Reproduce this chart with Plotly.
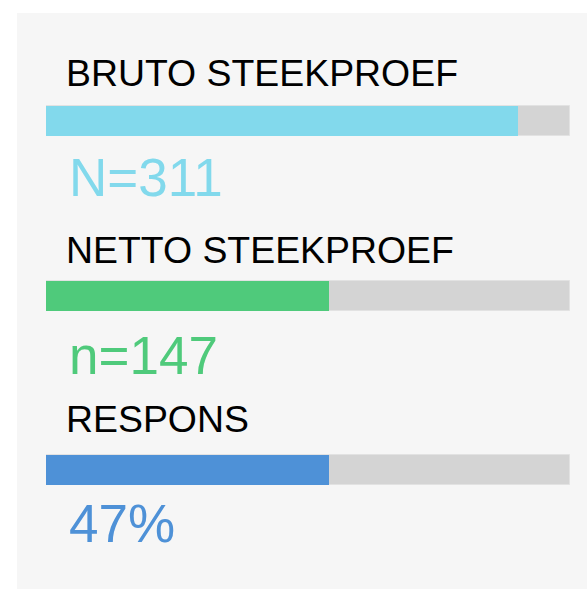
import plotly.graph_objects as go

# Canvas and plot-area geometry (pixels)
W, H = 587, 589
PLOT_L, PLOT_R = 46, 570

# Data
labels = ["BRUTO STEEKPROEF", "NETTO STEEKPROEF", "RESPONS"]
values = [311, 147, 47]
value_formats = ["N={}", "n={}", "{}%"]
track_max = [345, 272, 87]
colors = ["#82d9ec", "#4fca7b", "#4e91d7"]

rows = list(range(len(labels)))
fill = [v / m for v, m in zip(values, track_max)]
value_text = [f.format(v) for f, v in zip(value_formats, values)]

ROW_PX = 174.5         # vertical distance between bars
FIRST_ROW_PX = 121     # centre of first bar
BAR_PX = 30            # bar thickness
bar_w = BAR_PX / ROW_PX
y_top = -FIRST_ROW_PX / ROW_PX
y_bot = (H - FIRST_ROW_PX) / ROW_PX


def px_x(px):
    return (px - PLOT_L) / (PLOT_R - PLOT_L)


def px_y(py):
    return 1 - py / H


fig = go.Figure()

# grey track
fig.add_trace(go.Bar(
    x=[1] * len(rows), y=rows, orientation="h", width=bar_w,
    marker=dict(color="#d4d4d4", line=dict(color="#e2e2e2", width=1)),
    hoverinfo="skip", showlegend=False,
))
# coloured progress bars
fig.add_trace(go.Bar(
    x=fill, y=rows, orientation="h", width=bar_w,
    marker=dict(color=colors, line=dict(width=0)),
    customdata=values, hovertemplate="%{customdata}<extra></extra>",
    showlegend=False,
))

# label and value positions (cap-centre, pixels)
title_y = [72.5, 249.5, 418.5]
value_y = [178, 355.5, 523.5]
TITLE_X = 64
VALUE_X = 66.5
FONT = "Arial, Liberation Sans, sans-serif"

annotations = []
for i in rows:
    annotations.append(dict(
        text=labels[i], x=px_x(TITLE_X), y=px_y(title_y[i]),
        xref="paper", yref="paper", xanchor="left", yanchor="middle",
        showarrow=False,
        font=dict(family=FONT, size=37.4, color="#000000"),
    ))
    annotations.append(dict(
        text=value_text[i], x=px_x(VALUE_X), y=px_y(value_y[i]),
        xref="paper", yref="paper", xanchor="left", yanchor="middle",
        showarrow=False,
        font=dict(family=FONT, size=53, color=colors[i]),
    ))

fig.update_layout(
    width=W, height=H,
    margin=dict(l=PLOT_L, r=W - PLOT_R, t=0, b=0, pad=0),
    paper_bgcolor="#ffffff",
    plot_bgcolor="rgba(0,0,0,0)",
    barmode="overlay",
    bargap=0,
    xaxis=dict(range=[0, 1], visible=False, fixedrange=True),
    yaxis=dict(range=[y_bot, y_top], visible=False, fixedrange=True),
    shapes=[dict(
        type="rect", xref="paper", yref="paper", layer="below",
        x0=px_x(17), x1=px_x(W + 2), y0=px_y(H + 2), y1=px_y(13),
        fillcolor="#f6f6f6", line=dict(width=0),
    )],
    annotations=annotations,
)

fig.write_html("out.html", config={"displayModeBar": False})
